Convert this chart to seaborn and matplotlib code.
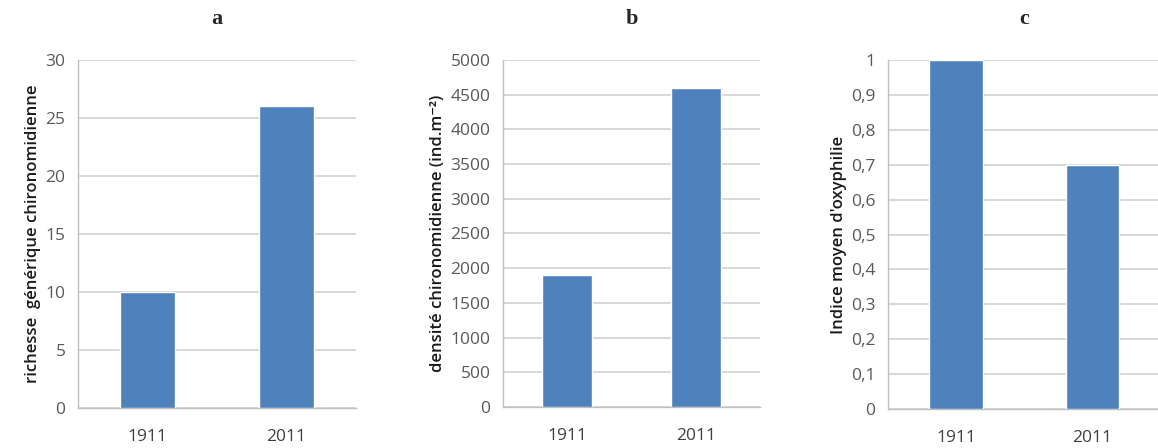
import matplotlib
matplotlib.use('Agg')
import matplotlib.pyplot as plt
import seaborn as sns
import pandas as pd
from matplotlib.ticker import FixedLocator, FuncFormatter

years = ['1911', '2011']
richesse = [10, 26]
densite = [1900, 4600]
oxyphilie = [1.0, 0.7]

sns.set_style('white')
plt.rcParams['font.family'] = ['Open Sans', 'DejaVu Sans']

bar_color = '#4F81BD'
grid_color = '#D4D4D4'
tick_color = '#595959'

fig = plt.figure(figsize=(11.58, 4.48), dpi=100)

panels = [
    # title, values, ylabel, ylim, step, axes rect, formatter
    ('a', richesse, 'richesse  générique chironomidienne', 30, 5,
     [0.0674, 0.0893, 0.240, 0.777], lambda v, p: f'{v:.0f}'),
    ('b', densite, 'densité chironomidienne (ind.m⁻²)', 5000, 500,
     [0.4344, 0.0915, 0.222, 0.775], lambda v, p: f'{v:.0f}'),
    ('c', oxyphilie, "Indice moyen d'oxyphilie", 1.0, 0.1,
     [0.7668, 0.0870, 0.235, 0.779],
     lambda v, p: ('0' if v == 0 else ('1' if abs(v - 1) < 1e-9 else f'{v:.1f}'.replace('.', ',')))),
]

for title, vals, ylabel, ymax, step, rect, fmt in panels:
    ax = fig.add_axes(rect)
    df = pd.DataFrame({'annee': years, 'valeur': vals})
    sns.barplot(data=df, x='annee', y='valeur', color=bar_color, width=0.39,
                saturation=1, ax=ax, zorder=3)
    ax.set_xlim(-0.5, 1.5)
    ax.set_ylim(0, ymax)
    n = int(round(ymax / step))
    ax.yaxis.set_major_locator(FixedLocator([i * step for i in range(n + 1)]))
    ax.yaxis.set_major_formatter(FuncFormatter(fmt))
    ax.grid(axis='y', color=grid_color, linewidth=1.3, zorder=0)
    ax.set_axisbelow(True)
    for s in ['top', 'right']:
        ax.spines[s].set_visible(False)
    for s in ['left', 'bottom']:
        ax.spines[s].set_color('#BFBFBF')
        ax.spines[s].set_linewidth(1.0)
    ax.tick_params(axis='y', length=6, color=grid_color, width=1.3,
                   labelsize=12.5, labelcolor=tick_color, pad=3)
    ax.tick_params(axis='x', which='major', length=0, labelsize=12.5,
                   labelcolor='#404040', pad=15)
    ax.xaxis.set_minor_locator(FixedLocator([-0.5, 0.5, 1.5]))
    ax.tick_params(axis='x', which='minor', length=6, color='#BFBFBF', width=1.0)
    ax.set_xlabel('')
    ax.set_ylabel(ylabel, fontsize=12, fontweight='semibold', color='#1a1a1a', labelpad=3)
    ax.set_title(title, fontsize=16, fontweight='bold', family='Liberation Serif', pad=26)

fig.savefig('out.png', dpi=100)
